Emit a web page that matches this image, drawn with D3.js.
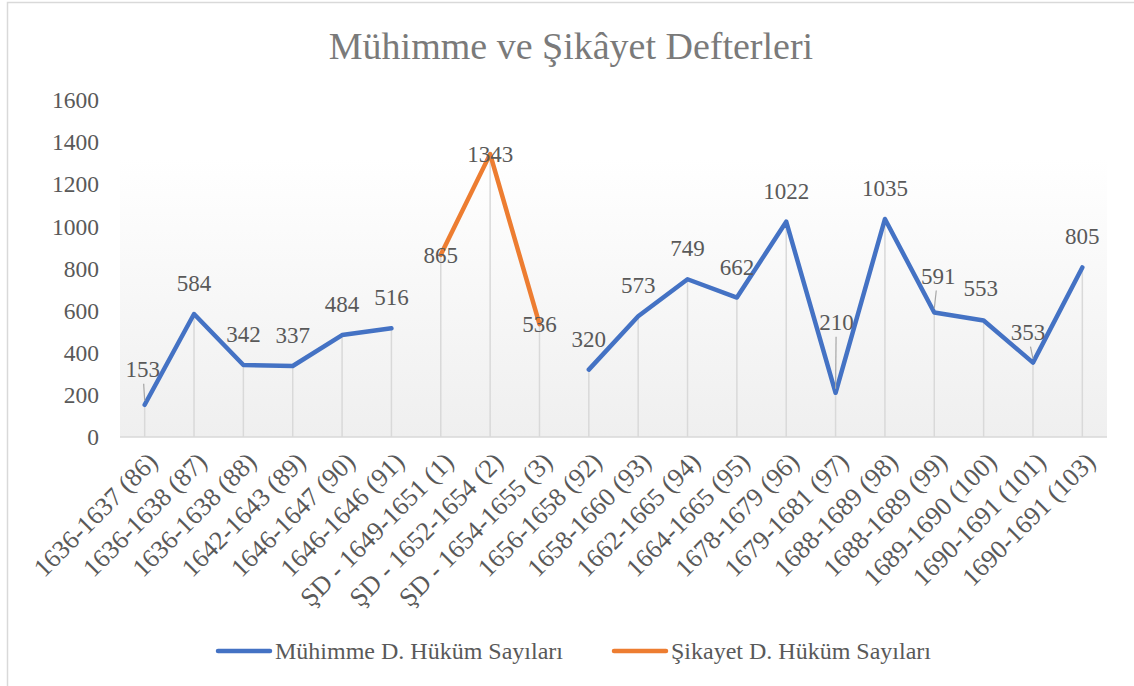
<!DOCTYPE html>
<html>
<head>
<meta charset="utf-8">
<script src="https://cdn.jsdelivr.net/npm/d3@7"></script>
<style>
  html, body { margin: 0; padding: 0; background: #fff; }
</style>
</head>
<body>
<div id="chart"></div>
<script>
// Kategoriler (defter tarihleri ve numaraları)
const categories = [
  "1636-1637 (86)", "1636-1638 (87)", "1636-1638 (88)", "1642-1643 (89)",
  "1646-1647 (90)", "1646-1646 (91)", "ŞD - 1649-1651 (1)", "ŞD - 1652-1654 (2)",
  "ŞD - 1654-1655 (3)", "1656-1658 (92)", "1658-1660 (93)", "1662-1665 (94)",
  "1664-1665 (95)", "1678-1679 (96)", "1679-1681 (97)", "1688-1689 (98)",
  "1688-1689 (99)", "1689-1690 (100)", "1690-1691 (101)", "1690-1691 (103)"
];

// Seri değerleri (null = boş)
const muhimme = [153, 584, 342, 337, 484, 516, null, null, null, 320,
                 573, 749, 662, 1022, 210, 1035, 591, 553, 353, 805];
const sikayet = [null, null, null, null, null, null, 865, 1343, 536, null,
                 null, null, null, null, null, null, null, null, null, null];

const yTicks = [0, 200, 400, 600, 800, 1000, 1200, 1400, 1600];

const seriesNames = ["Mühimme D. Hüküm Sayıları", "Şikayet D. Hüküm Sayıları"];
const title = "Mühimme ve Şikâyet Defterleri";

// Etiket kaydırmaları (Excel'deki elle taşınmış etiketler) — sadece stil
const labelNudge = {
  0: { dx: -2, dy: -36, leader: true },
  14: { dx: 1, dy: -71, leader: true },
  16: { dx: 4, dy: -37, leader: true },
  17: { dx: -3, dy: -33 },
  18: { dx: -5, dy: -31, leader: true }
};

const FONT = '"Liberation Serif", "Times New Roman", serif';
const GREY = "#595959";

const W = 1134, H = 686;
const margin = { top: 100, right: 27, bottom: 249, left: 120 };
const width = W - margin.left - margin.right;
const height = H - margin.top - margin.bottom;

const svg = d3.select("#chart").append("svg")
  .attr("width", W).attr("height", H)
  .attr("font-family", FONT);

// Dış çerçeve
svg.append("rect")
  .attr("x", 7.5).attr("y", 2.5)
  .attr("width", W + 10).attr("height", H + 10)
  .attr("fill", "none").attr("stroke", "#d9d9d9").attr("stroke-width", 1.5);

// Başlık
svg.append("text")
  .attr("x", 571).attr("y", 59)
  .attr("text-anchor", "middle")
  .style("font-family", FONT)
  .style("font-size", "38px")
  .style("fill", "#7a7a7a")
  .text(title);

const g = svg.append("g").attr("transform", `translate(${margin.left},${margin.top})`);

const x = d3.scaleBand().domain(categories).range([0, width]);
const cx = d => x(d) + x.bandwidth() / 2;
const y = d3.scaleLinear().domain([0, 1600]).range([height, 0]);

// Arka plan gradyanı
const grad = svg.append("defs").append("linearGradient")
  .attr("id", "bg").attr("x1", 0).attr("y1", 0).attr("x2", 0).attr("y2", 1);
grad.append("stop").attr("offset", "0%").attr("stop-color", "#ffffff");
grad.append("stop").attr("offset", "100%").attr("stop-color", "#efefef");

g.append("rect")
  .attr("x", 0).attr("y", y(1320))
  .attr("width", width).attr("height", height - y(1320))
  .attr("fill", "url(#bg)");

// Y ekseni etiketleri
g.append("g")
  .selectAll("text")
  .data(yTicks)
  .join("text")
  .attr("x", -21)
  .attr("y", d => y(d))
  .attr("dy", "0.35em")
  .attr("text-anchor", "end")
  .style("font-family", FONT)
  .style("font-size", "23.5px")
  .style("fill", GREY)
  .text(d => String(d));

// Düşey çizgiler (drop lines)
const points = [];
categories.forEach((c, i) => {
  if (muhimme[i] != null) points.push({ c, i, v: muhimme[i], s: 0 });
  if (sikayet[i] != null) points.push({ c, i, v: sikayet[i], s: 1 });
});

g.append("g")
  .selectAll("line")
  .data(points)
  .join("line")
  .attr("x1", d => cx(d.c)).attr("x2", d => cx(d.c))
  .attr("y1", d => y(d.v)).attr("y2", height)
  .attr("stroke", "#d9d9d9").attr("stroke-width", 1.5);

// X ekseni çizgisi
g.append("line")
  .attr("x1", 0).attr("x2", width)
  .attr("y1", height).attr("y2", height)
  .attr("stroke", "#d9d9d9").attr("stroke-width", 1.5);

// X ekseni etiketleri (45° döndürülmüş)
g.append("g")
  .selectAll("text")
  .data(categories)
  .join("text")
  .attr("transform", d => `translate(${cx(d) + 8},${height + 20}) rotate(-45)`)
  .attr("text-anchor", "end")
  .attr("dy", "0.35em")
  .style("font-family", FONT)
  .style("font-size", "26px")
  .style("fill", GREY)
  .text(d => d);

// Çizgiler
const colors = ["#4472c4", "#ed7d31"];
const line = d3.line()
  .defined(d => d.v != null)
  .x(d => cx(d.c))
  .y(d => y(d.v));

[muhimme, sikayet].forEach((vals, s) => {
  g.append("path")
    .datum(categories.map((c, i) => ({ c, v: vals[i] })))
    .attr("fill", "none")
    .attr("stroke", colors[s])
    .attr("stroke-width", 4.5)
    .attr("stroke-linejoin", "round")
    .attr("stroke-linecap", "round")
    .attr("d", line);
});

// Kılavuz çizgileri (leader lines)
g.append("g")
  .selectAll("line")
  .data(points.filter(d => d.s === 0 && labelNudge[d.i] && labelNudge[d.i].leader))
  .join("line")
  .attr("x1", d => cx(d.c) + labelNudge[d.i].dx * 0.5)
  .attr("y1", d => y(d.v) + labelNudge[d.i].dy + 15)
  .attr("x2", d => cx(d.c))
  .attr("y2", d => y(d.v) - 4)
  .attr("stroke", "#a6a6a6").attr("stroke-width", 1.2);

// Veri etiketleri
g.append("g")
  .selectAll("text")
  .data(points)
  .join("text")
  .attr("x", d => cx(d.c) + (d.s === 0 && labelNudge[d.i] ? labelNudge[d.i].dx : 0))
  .attr("y", d => y(d.v) + (d.s === 1 ? 0 : (labelNudge[d.i] ? labelNudge[d.i].dy : -31)))
  .attr("dy", "0.35em")
  .attr("text-anchor", "middle")
  .style("font-family", FONT)
  .style("font-size", "23px")
  .style("fill", GREY)
  .text(d => String(d.v));

// Lejant
const legend = svg.append("g").attr("transform", "translate(0,651)");
const legendX = [218, 614];
seriesNames.forEach((name, s) => {
  legend.append("line")
    .attr("x1", legendX[s]).attr("x2", legendX[s] + 52)
    .attr("y1", 0).attr("y2", 0)
    .attr("stroke", colors[s]).attr("stroke-width", 4.5)
    .attr("stroke-linecap", "round");
  legend.append("text")
    .attr("x", legendX[s] + 57).attr("y", 0)
    .attr("dy", "0.35em")
    .style("font-family", FONT)
    .style("font-size", "24px")
    .style("fill", GREY)
    .text(name);
});
</script>
</body>
</html>
